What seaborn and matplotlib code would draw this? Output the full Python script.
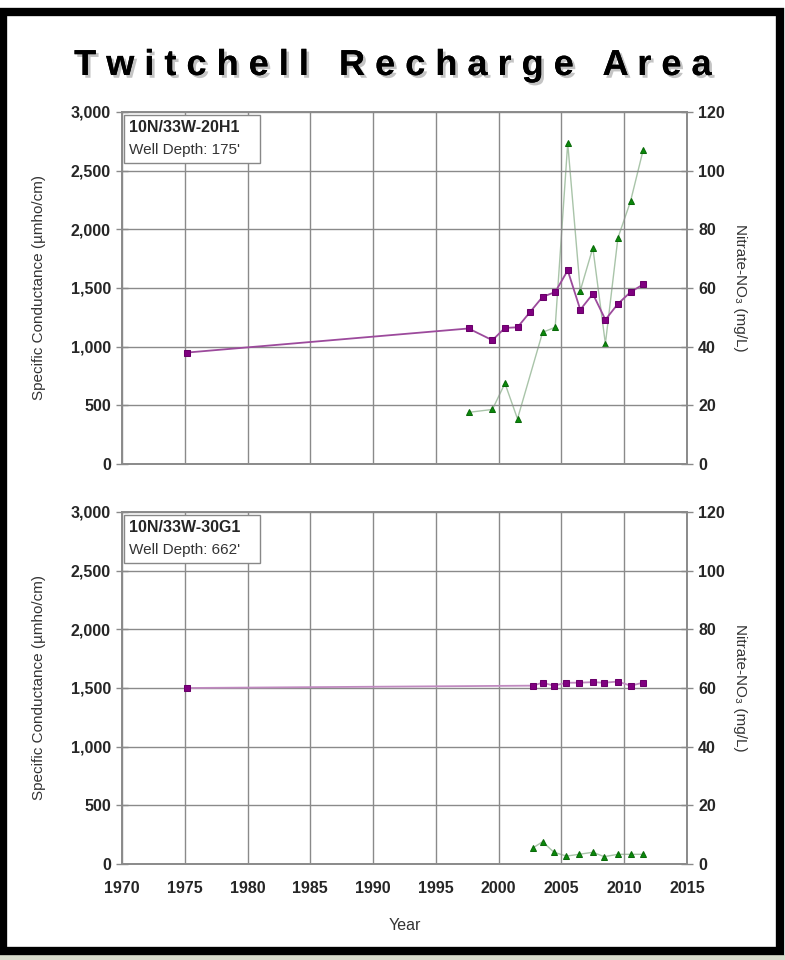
import matplotlib
matplotlib.use('Agg')
import matplotlib.pyplot as plt
import matplotlib.patheffects as pe
from matplotlib.patches import Rectangle
from matplotlib.ticker import FuncFormatter
import seaborn as sns

# well 10N/33W-20H1
sc_years_20h1 = [1975.2, 1997.6, 1999.5, 2000.5, 2001.5, 2002.5, 2003.5, 2004.5,
                 2005.5, 2006.5, 2007.5, 2008.5, 2009.5, 2010.5, 2011.5]
sc_20h1 = [950, 1155, 1055, 1160, 1165, 1295, 1425, 1465,
           1650, 1315, 1450, 1230, 1365, 1465, 1530]
no3_years_20h1 = [1997.6, 1999.5, 2000.5, 2001.5, 2003.5, 2004.5, 2005.5,
                  2006.5, 2007.5, 2008.5, 2009.5, 2010.5, 2011.5]
no3_20h1 = [17.6, 18.6, 27.5, 15.4, 44.9, 46.6, 109.4, 59.1, 73.7, 41.0, 77.1, 89.5, 106.9]

# well 10N/33W-30G1
sc_years_30g1 = [1975.2, 2002.7, 2003.5, 2004.4, 2005.4, 2006.4, 2007.5,
                 2008.4, 2009.5, 2010.5, 2011.5]
sc_30g1 = [1500, 1520, 1545, 1520, 1545, 1545, 1550, 1545, 1555, 1520, 1545]
no3_years_30g1 = [2002.7, 2003.5, 2004.4, 2005.4, 2006.4, 2007.5, 2008.4,
                  2009.5, 2010.5, 2011.5]
no3_30g1 = [5.4, 7.6, 4.0, 2.7, 3.3, 4.0, 2.5, 3.3, 3.3, 3.3]

wells = [
    ('10N/33W-20H1', "Well Depth: 175'", sc_years_20h1, sc_20h1, no3_years_20h1, no3_20h1),
    ('10N/33W-30G1', "Well Depth: 662'", sc_years_30g1, sc_30g1, no3_years_30g1, no3_30g1),
]
year_ticks = list(range(1970, 2016, 5))

sns.set_style("white")
plt.rcParams['font.family'] = ['Liberation Sans', 'DejaVu Sans']

fig = plt.figure(figsize=(7.85, 9.6), dpi=100)
fig.patch.set_facecolor('white')

# black frame + map strip underneath
fig.patches.append(Rectangle((0, 0), 1, 5 / 960, transform=fig.transFigure,
                             facecolor='#d8dccc', edgecolor='none', zorder=0))
fig.patches.append(Rectangle((3 / 785, 9 / 960), 777 / 785, 939 / 960,
                             transform=fig.transFigure, facecolor='none',
                             edgecolor='black', linewidth=6, zorder=5))

fig.text(0.5, 1 - 75 / 960, 'T w i t c h e l l   R e c h a r g e   A r e a',
         ha='center', va='baseline', fontsize=26, fontweight='bold', color='black',
         path_effects=[pe.withSimplePatchShadow(offset=(2, -2), shadow_rgbFace='#c4c4c4', alpha=1.0),
                       pe.Normal()])

grid_c = '#8a8a8a'
positions = [[122 / 785, 1 - 464 / 960, 565 / 785, 352 / 960],
             [122 / 785, 1 - 864 / 960, 565 / 785, 352 / 960]]

for i, (name, depth, sx, sy, nx, ny) in enumerate(wells):
    ax = fig.add_axes(positions[i])
    ax2 = ax.twinx()
    ax.set_zorder(ax2.get_zorder() + 1)
    ax.patch.set_visible(False)

    sns.lineplot(x=nx, y=ny, ax=ax2, color='#a9c4a9', linewidth=1, sort=False,
                 estimator=None, marker='^', markersize=4.8, markerfacecolor='#0a8a0a',
                 markeredgecolor='#0a6a0a')
    sns.lineplot(x=sx, y=sy, ax=ax, color='#9c4a9c' if i == 0 else '#c08ac0',
                 linewidth=1.3, sort=False, estimator=None, marker='s', markersize=5,
                 markerfacecolor='#800080', markeredgecolor='#6a006a')

    ax.set_xlim(1970, 2015)
    ax.set_ylim(0, 3000)
    ax2.set_ylim(0, 120)
    ax.set_xticks(year_ticks)
    ax.set_yticks(range(0, 3001, 500))
    ax2.set_yticks(range(0, 121, 20))
    ax.yaxis.set_major_formatter(FuncFormatter(lambda v, p: f'{int(v):,}'))
    ax.grid(True, color=grid_c, linewidth=1)
    ax.set_axisbelow(True)
    for a in (ax, ax2):
        for s in a.spines.values():
            s.set_color(grid_c)
            s.set_linewidth(1.2)
        a.tick_params(direction='inout', length=8, width=1, color=grid_c,
                      labelsize=11.5, pad=4)
    ax.tick_params(axis='x', pad=8)
    for lab in ax.get_yticklabels() + ax2.get_yticklabels() + ax.get_xticklabels():
        lab.set_fontweight('bold')
    ax2.grid(False)

    ax.set_ylabel('Specific Conductance (µmho/cm)', fontsize=11, color='#333333', labelpad=18)
    ax2.set_ylabel('Nitrate-NO₃ (mg/L)', fontsize=11, color='#333333', rotation=270,
                   labelpad=16)
    if i == 0:
        ax.set_xlabel('')
        ax.tick_params(axis='x', labelbottom=False)
    else:
        ax.set_xlabel('Year', fontsize=11.5, color='#333333', labelpad=16)

    ax.text(0.012, 0.957, name, transform=ax.transAxes, fontsize=11.5, fontweight='bold',
            va='center', ha='left', zorder=10)
    ax.text(0.012, 0.892, depth, transform=ax.transAxes, fontsize=11, color='#333333',
            va='center', ha='left', zorder=10)
    ax.add_patch(Rectangle((0.004, 0.855), 0.24, 0.136, transform=ax.transAxes,
                           facecolor='white', edgecolor='#888888', linewidth=1, zorder=9))

fig.savefig('out.png', dpi=100)
